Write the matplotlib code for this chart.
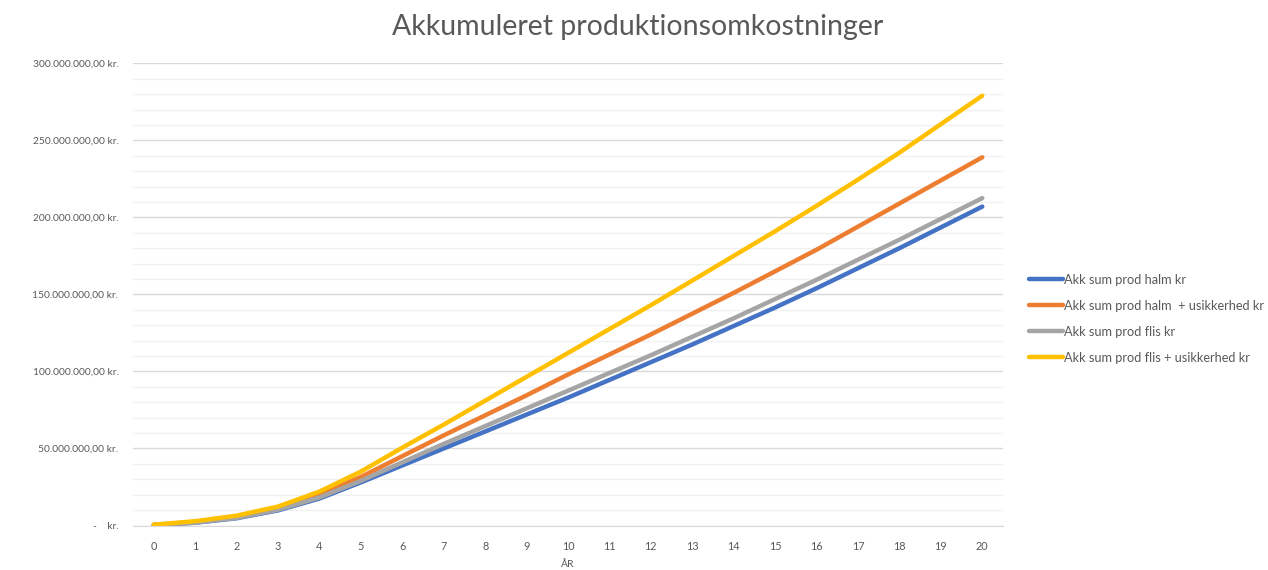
import matplotlib
matplotlib.use("Agg")
import matplotlib.pyplot as plt
from matplotlib.ticker import MultipleLocator, FuncFormatter

plt.rcParams['font.family'] = ['Lato', 'DejaVu Sans']

# data (mio. kr.)
years = list(range(21))
halm = [0.3, 1.8, 4.7, 9.8, 17.5, 28, 39, 50, 61, 72, 83, 94.5, 106, 117.5,
        129.5, 141.5, 154, 167, 180, 193.5, 207]
halm_usik = [0.4, 2.3, 5.6, 11.2, 20.3, 31.5, 45, 58.5, 71.5, 84.5, 98, 111,
             124, 137.5, 151, 165, 179, 194, 209, 224, 239]
flis = [0.3, 1.9, 4.9, 10.2, 18.2, 29, 41, 53, 64.5, 76, 87.5, 99, 110.5,
        122.5, 134.5, 147, 159.5, 172.5, 185.5, 199, 212.5]
flis_usik = [0.5, 2.8, 6.4, 12.3, 22, 35, 50.5, 65.5, 81, 96.5, 112, 127.5,
             143, 159, 175, 191, 207.5, 224.5, 242, 260.5, 279]

series = [
    ("Akk sum prod halm kr", halm, "#4472C4"),
    ("Akk sum prod halm  + usikkerhed kr", halm_usik, "#ED7D31"),
    ("Akk sum prod flis kr", flis, "#A5A5A5"),
    ("Akk sum prod flis + usikkerhed kr", flis_usik, "#FFC000"),
]

txt = "#595959"

fig = plt.figure(figsize=(12.68, 5.70), dpi=100)
ax = fig.add_axes([133/1268, 44.5/570, 870/1268, 462.2/570])

for label, vals, col in series:
    ax.plot(years, [v * 1e6 for v in vals], color=col, lw=3.2, label=label,
            solid_capstyle='round', solid_joinstyle='round')

ax.set_xlim(-0.5, 20.5)
ax.set_ylim(0, 300e6)
ax.set_xticks(years)
ax.yaxis.set_major_locator(MultipleLocator(50e6))
ax.yaxis.set_minor_locator(MultipleLocator(10e6))


def kr(v, pos):
    if v == 0:
        return "-    kr."
    s = f"{v:,.2f}".replace(",", "X").replace(".", ",").replace("X", ".")
    return s + " kr."


ax.yaxis.set_major_formatter(FuncFormatter(kr))
ax.grid(axis='y', which='major', color='#d9d9d9', lw=1)
ax.grid(axis='y', which='minor', color='#f0f0f0', lw=1)
ax.set_axisbelow(True)
for s in ['top', 'right', 'left']:
    ax.spines[s].set_visible(False)
ax.spines['bottom'].set_color('#d9d9d9')
ax.tick_params(axis='both', which='both', length=0, colors=txt, labelsize=7.8)
ax.tick_params(axis='y', labelsize=7.4, pad=10.5)
ax.tick_params(axis='x', pad=11)
ax.set_xlabel("ÅR", color=txt, fontsize=7.5, labelpad=6)

fig.text(0.503, 0.953, "Akkumuleret produktionsomkostninger", ha='center',
         va='center', fontsize=20.5, color=txt)

leg = fig.legend(loc='center left', bbox_to_anchor=(1017/1268, 0.441),
                 frameon=False, fontsize=9.2, handlelength=2.7,
                 handletextpad=0.05, labelspacing=1.1)
for t in leg.get_texts():
    t.set_color(txt)

fig.savefig("out.png", dpi=100)
